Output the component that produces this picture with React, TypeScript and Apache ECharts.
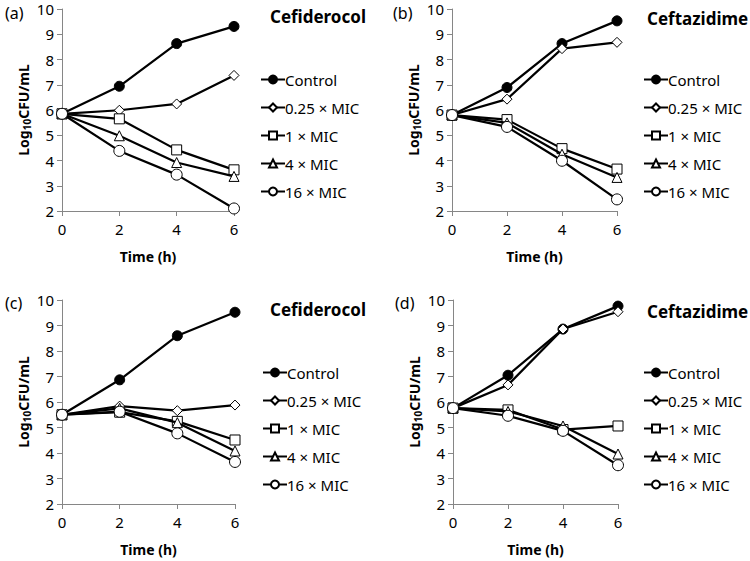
import React, { useEffect, useRef } from "react";
import * as echarts from "echarts";

const times = [0, 2, 4, 6];
const seriesNames = ["Control", "0.25 × MIC", "1 × MIC", "4 × MIC", "16 × MIC"];
const yTicks = [2, 3, 4, 5, 6, 7, 8, 9, 10];
const xTicks = [0, 2, 4, 6];

// Panel (a) Cefiderocol
const aControl = [5.85, 6.94, 8.63, 9.31];
const aQuarter = [5.85, 5.99, 6.24, 7.37];
const aOne = [5.85, 5.65, 4.42, 3.63];
const aFour = [5.85, 4.98, 3.92, 3.37];
const aSixteen = [5.85, 4.38, 3.44, 2.1];

// Panel (b) Ceftazidime
const bControl = [5.8, 6.89, 8.63, 9.53];
const bQuarter = [5.8, 6.43, 8.43, 8.68];
const bOne = [5.8, 5.62, 4.47, 3.66];
const bFour = [5.8, 5.49, 4.25, 3.33];
const bSixteen = [5.8, 5.33, 3.99, 2.46];

// Panel (c) Cefiderocol
const cControl = [5.5, 6.87, 8.6, 9.52];
const cQuarter = [5.5, 5.84, 5.66, 5.88];
const cOne = [5.5, 5.6, 5.24, 4.51];
const cFour = [5.5, 5.75, 5.19, 4.08];
const cSixteen = [5.5, 5.62, 4.77, 3.65];

// Panel (d) Ceftazidime
const dControl = [5.76, 7.05, 8.86, 9.76];
const dQuarter = [5.76, 6.67, 8.86, 9.54];
const dOne = [5.76, 5.69, 4.92, 5.06];
const dFour = [5.76, 5.63, 5.06, 3.96];
const dSixteen = [5.76, 5.46, 4.87, 3.52];

const panelLabels = ["(a)", "(b)", "(c)", "(d)"];
const panelTitles = ["Cefiderocol", "Ceftazidime", "Cefiderocol", "Ceftazidime"];
const xTitle = "Time (h)";

const FONT = "'Noto Sans', sans-serif";

export default function App() {
  const ref = useRef<HTMLDivElement>(null);
  useEffect(() => {
    document.body.style.margin = "0";
    if (!ref.current) return;
    const chart = echarts.init(ref.current, undefined, { renderer: "svg" });

    const panels = [
      [aControl, aQuarter, aOne, aFour, aSixteen],
      [bControl, bQuarter, bOne, bFour, bSixteen],
      [cControl, cQuarter, cOne, cFour, cSixteen],
      [dControl, dQuarter, dOne, dFour, dSixteen],
    ];
    const grids = [
      { left: 62, top: 9, width: 172, height: 202 },
      { left: 452, top: 9, width: 165, height: 202 },
      { left: 62, top: 300, width: 173, height: 204 },
      { left: 453, top: 300, width: 165, height: 204 },
    ];
    const legendPos = [
      { left: 255, top: 67 },
      { left: 638, top: 67 },
      { left: 257, top: 360 },
      { left: 638, top: 360 },
    ];
    const labelPos = [
      { left: 0, top: 0 },
      { left: 388, top: 0 },
      { left: 0, top: 290 },
      { left: 390, top: 290 },
    ];
    const titlePos = [
      { left: 265, top: 3 },
      { left: 642, top: 5 },
      { left: 265, top: 296 },
      { left: 642, top: 298 },
    ];

    const styles = [
      { symbol: "circle", symbolSize: 10, color: "#000" },
      { symbol: "diamond", symbolSize: 10, color: "#fff" },
      { symbol: "rect", symbolSize: 10, color: "#fff" },
      { symbol: "triangle", symbolSize: 10, color: "#fff" },
      { symbol: "circle", symbolSize: 11, color: "#fff" },
    ];

    const axisLine = { show: true, lineStyle: { color: "#868686", width: 1 } };
    const series: any[] = [];
    panels.forEach((vals, p) => {
      vals.forEach((v, i) => {
        series.push({
          type: "line",
          name: seriesNames[i],
          xAxisIndex: p,
          yAxisIndex: p,
          data: times.map((t, k) => [t, v[k]]),
          symbol: styles[i].symbol,
          symbolSize: styles[i].symbolSize,
          showAllSymbol: true,
          lineStyle: { color: "#000", width: 2.2 },
          itemStyle: { color: styles[i].color, borderColor: "#000", borderWidth: 1 },
          z: 2 + i,
        });
      });
    });

    chart.setOption({
      animation: false,
      textStyle: { fontFamily: FONT },
      title: [
        ...panelLabels.map((t, i) => ({
          text: t,
          ...labelPos[i],
          textStyle: { fontSize: 16, fontWeight: "normal", color: "#000", fontFamily: FONT },
        })),
        ...panelTitles.map((t, i) => ({
          text: t,
          ...titlePos[i],
          textStyle: { fontSize: 17, fontWeight: "bold", color: "#000", fontFamily: FONT },
        })),
      ],
      grid: grids,
      legend: legendPos.map((pos) => ({
        ...pos,
        orient: "vertical",
        data: seriesNames,
        itemWidth: 24,
        itemHeight: 10,
        itemGap: 13,
        selectedMode: false,
        textStyle: { fontSize: 15, color: "#000", fontFamily: FONT, padding: [0, 0, 0, -5] },
      })),
      xAxis: grids.map((_, i) => ({
        type: "value",
        gridIndex: i,
        min: 0,
        max: 6,
        interval: 2,
        name: xTitle,
        nameLocation: "middle",
        nameGap: 38,
        nameTextStyle: { fontSize: 14, fontWeight: "bold", color: "#000", fontFamily: FONT },
        axisLine,
        axisTick: { show: true, inside: false, length: 5, lineStyle: { color: "#868686" } },
        axisLabel: { fontSize: 15, color: "#000", margin: 10, fontFamily: FONT },
        splitLine: { show: false },
      })),
      yAxis: grids.map((_, i) => ({
        type: "value",
        gridIndex: i,
        min: 2,
        max: 10,
        interval: 1,
        name: "{a|Log}{s|10}{a|CFU/mL}",
        nameLocation: "middle",
        nameRotate: 90,
        nameGap: 30,
        nameTextStyle: {
          color: "#000",
          rich: {
            a: { fontSize: 14, fontWeight: "bold", color: "#000", fontFamily: FONT, lineHeight: 18 },
            s: { fontSize: 10, fontWeight: "bold", color: "#000", fontFamily: FONT, verticalAlign: "bottom", lineHeight: 12, padding: [6, 0, 0, 0] },
          },
        },
        axisLine,
        axisTick: { show: true, inside: false, length: 5, lineStyle: { color: "#868686" } },
        axisLabel: { fontSize: 15, lineHeight: 16, color: "#000", margin: 8, fontFamily: FONT },
        splitLine: { show: false },
      })),
      series,
    });
    return () => chart.dispose();
  }, []);
  return <div ref={ref} style={{ width: 750, height: 561 }} />;
}
